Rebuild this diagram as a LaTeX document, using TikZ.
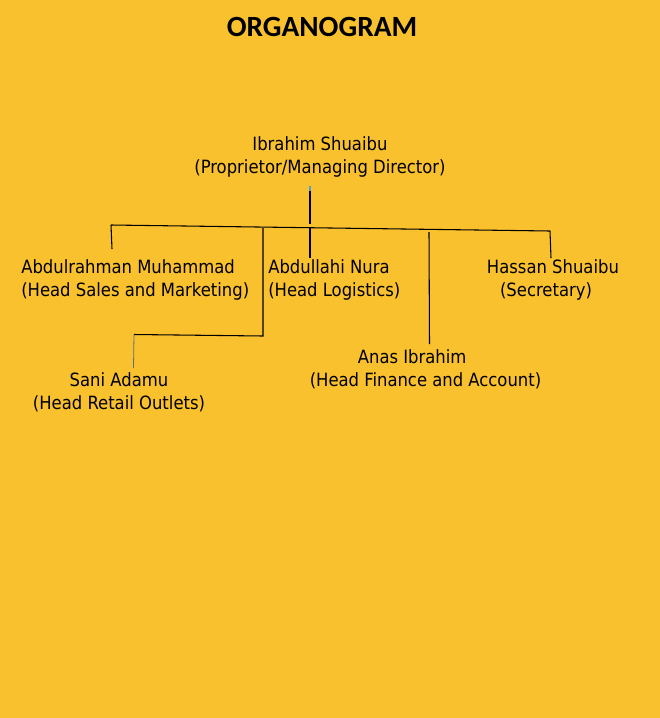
\documentclass[tikz,border=0pt]{standalone}
\usepackage{fontspec}
\setmainfont{Carlito}
\newfontfamily\bodyfont{DejaVu Sans Condensed}
\definecolor{bg}{HTML}{FAC12F}
\definecolor{bluegrey}{HTML}{5C7080}
\definecolor{tipblue}{HTML}{5B9BD5}
\begin{document}
\begin{tikzpicture}[x=0.75pt,y=-0.75pt,
  person/.style={inner sep=0pt,font=\bodyfont\fontsize{13.7pt}{17.2pt}\selectfont,text=black},
  link/.style={draw=black,line width=0.8pt}]
\fill[bg] (0,0) rectangle (660,718);
\useasboundingbox (0,0) rectangle (660,718);
\node[font=\fontsize{22pt}{24pt}\selectfont\bfseries,inner sep=0pt] (title) at (322,27) {ORGANOGRAM};
\node[person,align=center] (md) at (320,157) {Ibrahim Shuaibu\\(Proprietor/Managing Director)};
\node[person,align=left,anchor=west] (sales) at (21,279.5) {Abdulrahman Muhammad\\(Head Sales and Marketing)};
\node[person,align=left,anchor=west] (logi) at (268,279.5) {Abdullahi Nura\\(Head Logistics)};
\node[person,align=center] (sec) at (553,280) {Hassan Shuaibu\\(Secretary)\kern10.5pt};
\node[person,align=center] (retail) at (119,392.5) {Sani Adamu\\(Head Retail Outlets)};
\node[person,align=center] (fin) at (425.5,369.5) {Anas Ibrahim\kern20pt\\(Head Finance and Account)};
% junction coordinates
\coordinate (mdtop) at (310,186);
\coordinate (mdb) at (310,191);
\coordinate (mdj) at (310,224);
\coordinate (hl) at (111,225);
\coordinate (hr) at (550,231);
\coordinate (salesend) at (112,249);
\coordinate (rj) at (263,228);
\coordinate (rbend) at (263,336);
\coordinate (rleft) at (134,334.5);
\coordinate (rend) at (133.5,368);
\coordinate (lj) at (310,228);
\coordinate (lend) at (310,258);
\coordinate (fj) at (429,232);
\coordinate (fend) at (429.5,344);
\coordinate (send) at (551,258);
\draw[draw=tipblue,line width=0.8pt] (mdtop) -- (mdb);
\draw[link] (mdb) -- (mdj);
\draw[link] (hl) -- (hr);
\draw[link] (hl) -- (salesend);
\draw[link] (rj) -- (rbend) -- (rleft);
\draw[draw=bluegrey,line width=0.6pt] (rleft) -- (rend);
\draw[link] (lj) -- (lend);
\draw[link] (fj) -- (fend);
\draw[link] (hr) -- (send);
\end{tikzpicture}
\end{document}
